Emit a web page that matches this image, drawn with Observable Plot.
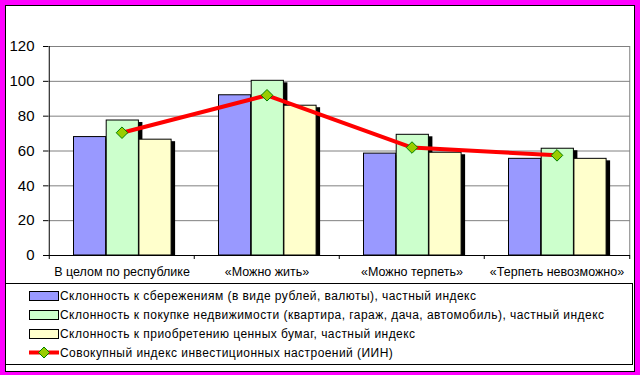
<!DOCTYPE html>
<html><head><meta charset="utf-8">
<script src="https://cdn.jsdelivr.net/npm/d3@7"></script>
<script src="https://cdn.jsdelivr.net/npm/@observablehq/plot@0.6"></script>
<style>
body{margin:0;background:#fff;}
#wrap{position:relative;width:640px;height:375px;background:#ff00ff;overflow:hidden;font-family:Arial,"Liberation Sans",sans-serif;}
#frame{position:absolute;left:5px;top:5px;width:628px;height:365px;background:#fff;border:1px solid #000;}
#chart{position:absolute;left:0;top:0;}
#legend{position:absolute;left:5px;top:283px;width:626px;height:80px;border:1px solid #000;background:#fff;}
.row{position:absolute;left:0;height:19px;display:flex;align-items:center;font-size:12px;color:#000;white-space:nowrap;}
.sw{position:absolute;left:23px;width:28px;height:8px;border:1px solid #000;}
.lab{position:absolute;left:54px;letter-spacing:0.45px;}
</style></head>
<body>
<div id="wrap"><div id="frame"></div><div id="chart"></div><div id="legend"></div></div>
<script>
const categories = ["В целом по республике", "«Можно жить»", "«Можно терпеть»", "«Терпеть невозможно»"];
const savings = [68, 92, 58.5, 55.5];
const realEstate = [77.5, 100.3, 69.3, 61.3];
const securities = [66.5, 86, 59, 55.5];
const compositeIndex = [70.5, 92, 62, 57.5];
const seriesNames = [
  "Склонность к сбережениям (в виде рублей, валюты), частный индекс",
  "Склонность к покупке недвижимости (квартира, гараж, дача, автомобиль), частный индекс",
  "Склонность к приобретению ценных бумаг, частный индекс",
  "Совокупный индекс инвестиционных настроений (ИИН)"
];
const seriesColors = ["#9999FF", "#CCFFCC", "#FFFFCC"];
const yTicks = [0, 20, 40, 60, 80, 100, 120];

const barSeries = [savings, realEstate, securities];
const rows = barSeries.map((vals, s) => categories.map((c, i) => ({category: c, series: s, value: vals[i]})));
const lineRows = categories.map((c, i) => ({category: c, value: compositeIndex[i]}));

const W = 640, H = 375, mL = 48, mR = 10, mT = 46, mB = 120;
const bw = (W - mL - mR) / categories.length;
const groupLeft = 24.5, barW = 32.7;
const pxPerUnit = (H - mT - mB) / 120;

const marks = [];
marks.push(Plot.ruleY(yTicks.filter(t => t > 0), {y: d => d, stroke: "#808080", strokeWidth: 1}));
marks.push(Plot.ruleX([categories[categories.length - 1]], {x: d => d, dx: bw / 2, stroke: "#808080", y1: 0, y2: 120}));
rows.forEach((r, s) => {
  const insetLeft = groupLeft + s * barW;
  const insetRight = bw - groupLeft - (s + 1) * barW;
  marks.push(Plot.barY(r, {x: "category", y: "value", fill: "#000", dx: 4, dy: 2, insetLeft, insetRight, clip: true}));
});
rows.forEach((r, s) => {
  const insetLeft = groupLeft + s * barW;
  const insetRight = bw - groupLeft - (s + 1) * barW;
  marks.push(Plot.barY(r, {x: "category", y: "value", fill: seriesColors[s], stroke: "#000", strokeWidth: 1, insetLeft, insetRight}));
});
marks.push(Plot.ruleY([0], {stroke: "#000"}));
marks.push(Plot.ruleX([categories[0]], {x: d => d, dx: -bw / 2, stroke: "#000", y1: 0, y2: 120}));
marks.push(Plot.ruleX(categories, {x: d => d, dx: -bw / 2, stroke: "#000", y1: 0, y2: -4 / pxPerUnit}));
marks.push(Plot.ruleX([categories[categories.length - 1]], {x: d => d, dx: bw / 2, stroke: "#000", y1: 0, y2: -4 / pxPerUnit}));
marks.push(Plot.axisY(yTicks, {tickSize: 5, tickPadding: 9, fontSize: 15, stroke: "#000", fill: "#000", label: null}));
marks.push(Plot.axisX({tickSize: 0, tickPadding: 12, fontSize: 12.5, fill: "#000", label: null, style: {letterSpacing: "0.2px"}}));
marks.push(Plot.line(lineRows, {x: "category", y: "value", stroke: "#FF0000", strokeWidth: 4}));
marks.push(Plot.dot(lineRows, {x: "category", y: "value", symbol: "diamond2", r: 5.2, fill: "#99CC00", stroke: "#008000", strokeWidth: 1}));

const chart = Plot.plot({
  width: W, height: H,
  marginLeft: mL, marginRight: mR, marginTop: mT, marginBottom: mB,
  style: {background: "transparent", fontFamily: "Arial, 'Liberation Sans', sans-serif", color: "#000", overflow: "visible"},
  x: {type: "band", domain: categories, padding: 0, axis: null, label: null},
  y: {domain: [0, 120], axis: null, label: null},
  marks
});
document.getElementById("chart").appendChild(chart);

const legend = document.getElementById("legend");
seriesNames.forEach((name, i) => {
  const row = document.createElement("div");
  row.className = "row";
  row.style.top = (2 + 19 * i) + "px";
  row.style.width = "620px";
  if (i < 3) {
    const sw = document.createElement("div");
    sw.className = "sw";
    sw.style.background = seriesColors[i];
    row.appendChild(sw);
  } else {
    const ns = "http://www.w3.org/2000/svg";
    const svg = document.createElementNS(ns, "svg");
    svg.setAttribute("width", 30); svg.setAttribute("height", 19);
    svg.style.position = "absolute"; svg.style.left = "23px"; svg.style.top = "0px";
    const ln = document.createElementNS(ns, "line");
    ln.setAttribute("x1", 0); ln.setAttribute("x2", 30); ln.setAttribute("y1", 9.5); ln.setAttribute("y2", 9.5);
    ln.setAttribute("stroke", "#FF0000"); ln.setAttribute("stroke-width", 4);
    svg.appendChild(ln);
    const dm = document.createElementNS(ns, "path");
    dm.setAttribute("d", "M15,4 L20.5,9.5 L15,15 L9.5,9.5 Z");
    dm.setAttribute("fill", "#99CC00"); dm.setAttribute("stroke", "#008000");
    svg.appendChild(dm);
    row.appendChild(svg);
  }
  const lab = document.createElement("span");
  lab.className = "lab";
  lab.textContent = name;
  row.appendChild(lab);
  legend.appendChild(row);
});
</script>
</body></html>
